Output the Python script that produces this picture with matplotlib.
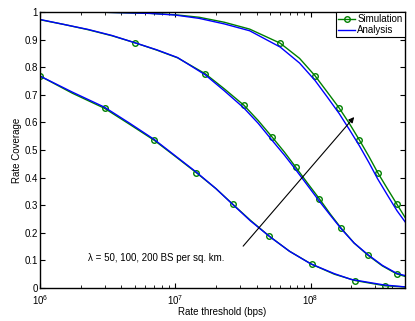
import matplotlib
matplotlib.use('Agg')
import matplotlib.pyplot as plt
import numpy as np

plt.rcParams['font.family'] = ['Liberation Sans', 'DejaVu Sans']
plt.rcParams['mathtext.fontset'] = 'custom'
plt.rcParams['mathtext.rm'] = 'Liberation Sans'

# Simulation curves (green); markevery lists pick the points that carry a circle
sim1_x = [1e6, 1.73e6, 3e6, 4.6e6, 7e6, 1e7, 1.43e7, 2e7, 2.67e7, 3.6e7, 4.95e7,
          7e7, 1.02e8, 1.5e8, 2.14e8, 3.56e8, 5e8]
sim1_y = [0.768, 0.706, 0.651, 0.593, 0.535, 0.477, 0.418, 0.36, 0.303, 0.245, 0.188,
          0.133, 0.086, 0.05, 0.027, 0.008, 0.004]
sim1_mark = [0, 2, 4, 6, 8, 10, 12, 14, 15]

sim2_x = [1e6, 1.5e6, 2.26e6, 3.4e6, 5e6, 7.3e6, 1.04e7, 1.67e7, 2.3e7, 3.22e7, 4.1e7,
          5.18e7, 6.4e7, 7.8e7, 9.5e7, 1.16e8, 1.4e8, 1.69e8, 2.1e8, 2.67e8, 3.4e8, 4.34e8, 5e8]
sim2_y = [0.972, 0.955, 0.936, 0.914, 0.889, 0.862, 0.834, 0.776, 0.722, 0.662, 0.607,
          0.548, 0.493, 0.437, 0.38, 0.324, 0.268, 0.216, 0.163, 0.118, 0.08, 0.051, 0.042]
sim2_mark = [4, 7, 9, 11, 13, 15, 17, 19, 21]

sim3_x = [1e6, 3e6, 6.5e6, 1e7, 1.5e7, 2.3e7, 3.55e7, 5.97e7, 8.3e7, 1.08e8, 1.33e8,
          1.63e8, 1.95e8, 2.3e8, 2.7e8, 3.14e8, 3.7e8, 4.36e8, 5e8]
sim3_y = [1.0, 0.999, 0.995, 0.99, 0.981, 0.963, 0.938, 0.887, 0.832, 0.769, 0.71,
          0.652, 0.594, 0.536, 0.477, 0.418, 0.36, 0.303, 0.256]
sim3_mark = [7, 9, 11, 13, 15, 17]

# Analysis curves (blue)
ana1_x = [1e6, 1.73e6, 3e6, 4.6e6, 7e6, 1e7, 1.43e7, 2e7, 2.67e7, 3.6e7, 5e7,
          7e7, 1e8, 1.5e8, 2e8, 3.5e8, 5e8]
ana1_y = [0.768, 0.71, 0.655, 0.597, 0.538, 0.479, 0.42, 0.36, 0.302, 0.243, 0.186,
          0.133, 0.088, 0.052, 0.031, 0.011, 0.004]

ana2_x = [1e6, 1.5e6, 2.26e6, 3.4e6, 5e6, 7.3e6, 1.04e7, 1.67e7, 2.3e7, 3.22e7, 4.1e7,
          5.18e7, 6.4e7, 7.8e7, 9.5e7, 1.16e8, 1.4e8, 1.69e8, 2.1e8, 2.67e8, 3.4e8, 4.34e8, 5e8]
ana2_y = [0.973, 0.955, 0.937, 0.915, 0.889, 0.863, 0.835, 0.772, 0.715, 0.652, 0.597,
          0.536, 0.482, 0.428, 0.372, 0.315, 0.264, 0.214, 0.163, 0.12, 0.082, 0.053, 0.045]

ana3_x = [1e6, 3e6, 6.5e6, 1e7, 1.5e7, 2.3e7, 3.55e7, 5.97e7, 8.3e7, 1.08e8, 1.33e8,
          1.63e8, 1.95e8, 2.3e8, 2.7e8, 3.14e8, 3.7e8, 4.36e8, 5e8]
ana3_y = [1.0, 0.999, 0.995, 0.989, 0.977, 0.957, 0.932, 0.873, 0.815, 0.752, 0.692,
          0.632, 0.572, 0.515, 0.455, 0.395, 0.337, 0.28, 0.24]

green = '#008000'
blue = '#0000ff'

fig = plt.figure(figsize=(4.15, 3.21), dpi=100)
ax = fig.add_axes([0.0964, 0.1028, 0.8796, 0.8598])

sims = [(sim1_x, sim1_y, sim1_mark), (sim2_x, sim2_y, sim2_mark), (sim3_x, sim3_y, sim3_mark)]
anas = [(ana1_x, ana1_y), (ana2_x, ana2_y), (ana3_x, ana3_y)]

for i, (x, y, m) in enumerate(sims):
    ax.plot(x, y, color=green, lw=1.0, marker='o', markersize=4, markerfacecolor='none',
            markeredgewidth=1.0, markevery=m, label='Simulation' if i == 0 else None)
for i, (x, y) in enumerate(anas):
    ax.plot(x, y, color=blue, lw=1.0, label='Analysis' if i == 0 else None)

ax.set_xscale('log')
ax.set_xlim(1e6, 5e8)
ax.set_ylim(0, 1)
ax.set_yticks(np.arange(0, 1.01, 0.1))
ax.set_yticklabels(['0', '0.1', '0.2', '0.3', '0.4', '0.5', '0.6', '0.7', '0.8', '0.9', '1'])
ax.tick_params(which='both', direction='in', top=True, right=True, labelsize=7)
ax.tick_params(axis='y', pad=1.5)
ax.tick_params(axis='x', pad=4)
ax.tick_params(which='major', length=3.5)
ax.tick_params(which='minor', length=2)
for s in ax.spines.values():
    s.set_linewidth(1.0)

ax.set_xlabel('Rate threshold (bps)', fontsize=7, labelpad=0)
ax.set_ylabel('Rate Coverage', fontsize=7, labelpad=2)

ax.annotate('', xy=(2.17e8, 0.627), xytext=(3.08e7, 0.144),
            arrowprops=dict(arrowstyle='-|>', color='black', lw=0.8, mutation_scale=8))
ax.text(2.26e6, 0.11, 'λ = 50, 100, 200 BS per sq. km.', fontsize=7, va='center', ha='left')

leg = ax.legend(loc='upper right', fontsize=7, fancybox=False, edgecolor='black', framealpha=1,
                borderaxespad=0.05, handlelength=1.8, handletextpad=0.2, borderpad=0.2,
                labelspacing=0.1)
leg.get_frame().set_linewidth(0.8)

fig.savefig('out.png', dpi=100)
